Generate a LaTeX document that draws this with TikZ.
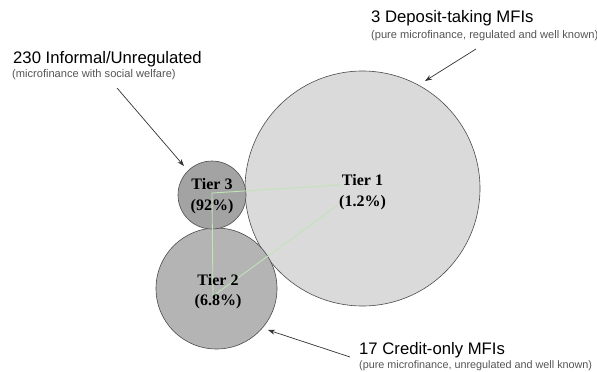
\documentclass[tikz,border=0pt]{standalone}
\usepackage{fontspec}
\setmainfont{Liberation Serif}
\setsansfont{Liberation Sans}
\usetikzlibrary{arrows.meta}
\definecolor{tierA}{RGB}{218,218,218}
\definecolor{tierB}{RGB}{180,180,180}
\definecolor{tierC}{RGB}{163,163,163}
\definecolor{linkgreen}{RGB}{192,228,182}
\definecolor{subgray}{RGB}{85,85,85}
\begin{document}
\begin{tikzpicture}[x=1pt,y=-1pt,
  tier/.style={circle, draw=black!70, line width=0.6pt, inner sep=0pt},
  tierlbl/.style={font=\fontsize{16}{21}\selectfont\bfseries, anchor=base, inner sep=0pt},
  head/.style={font=\sffamily\fontsize{16.7}{20}\selectfont, anchor=base west, inner sep=0pt},
  sub/.style={font=\sffamily\fontsize{11.1}{13}\selectfont, text=subgray, anchor=base west, inner sep=0pt},
  pointer/.style={draw=black!80, line width=0.7pt, -{Stealth[length=7pt,width=5pt]}},
  link/.style={draw=linkgreen, line width=0.9pt}
]
\fill[white] (0,0) rectangle (597,372);
\useasboundingbox (0,0) rectangle (597,372);

% the three tiers
\node[tier, fill=tierA, minimum size=235pt] (t1) at (362.5,188.5) {};
\node[tier, fill=tierB, minimum size=121pt] (t2) at (216.5,288.5) {};
\node[tier, fill=tierC, minimum size=68pt] (t3) at (212,195) {};

% links between the tiers
\coordinate (l3) at (212,193);
\coordinate (l2) at (213,296);
\coordinate (l1a) at (340,185);
\coordinate (l1b) at (338,205);
\draw[link] (l1a) -- (l3) -- (l2) -- (l1b);

% tier labels
\node[tierlbl] (t1name) at (362.5,185) {Tier 1};
\node[tierlbl] (t1share) at (362.5,206) {(1.2\%)};
\node[tierlbl] (t2name) at (218,285) {Tier 2};
\node[tierlbl] (t2share) at (218,305) {(6.8\%)};
\node[tierlbl] (t3name) at (212,189) {Tier 3};
\node[tierlbl] (t3share) at (212,210) {(92\%)};

% captions
\node[head] (c3) at (13,63) {230 Informal/Unregulated};
\node[sub] (c3s) at (12,77) {(microfinance with social welfare)};
\node[head] (c1) at (371,23) {3 Deposit-taking MFIs};
\node[sub] (c1s) at (371,38) {(pure microfinance, regulated and well known)};
\node[head] (c2) at (359,354) {17 Credit-only MFIs};
\node[sub, font=\sffamily\fontsize{10.8}{13}\selectfont] (c2s) at (359,368) {(pure microfinance, unregulated and well known)};

% pointers from captions to tiers
\coordinate (p3from) at (117,88);
\coordinate (p3to) at (184,166);
\coordinate (p1from) at (476,49);
\coordinate (p1to) at (425,81);
\coordinate (p2from) at (350,357);
\coordinate (p2to) at (268,330);
\draw[pointer] (p3from) -- (p3to);
\draw[pointer] (p1from) -- (p1to);
\draw[pointer] (p2from) -- (p2to);
\end{tikzpicture}
\end{document}
